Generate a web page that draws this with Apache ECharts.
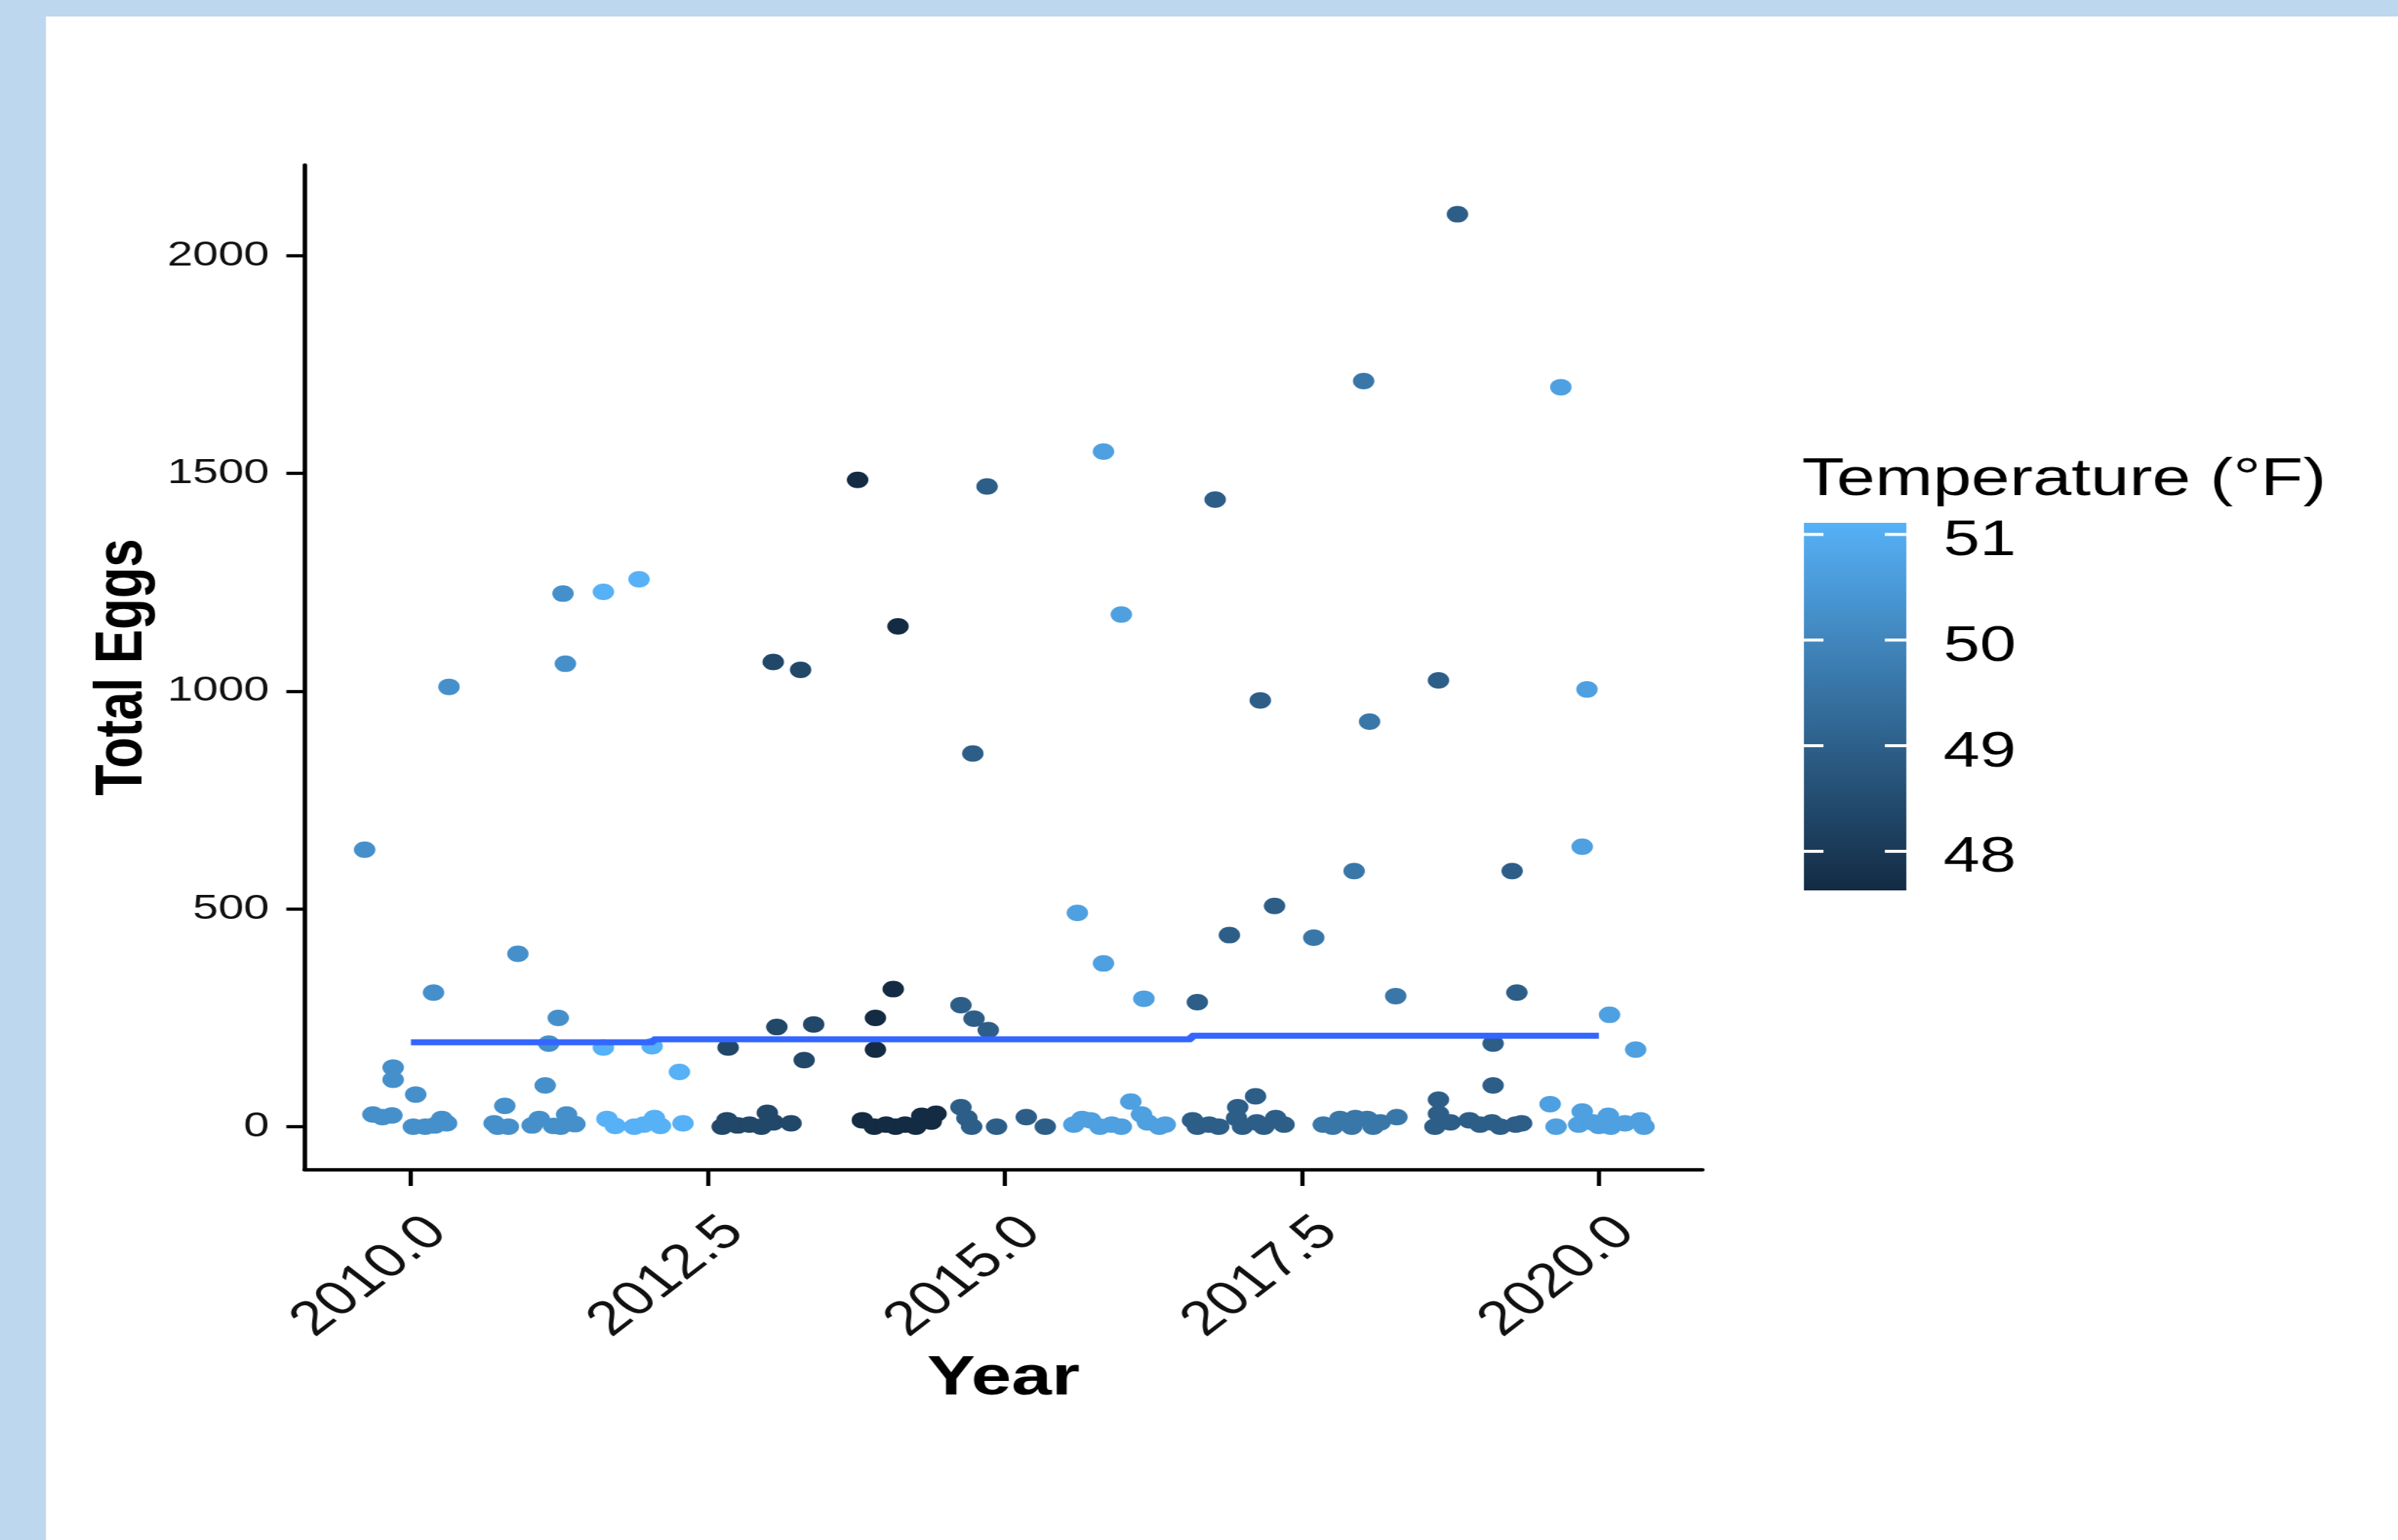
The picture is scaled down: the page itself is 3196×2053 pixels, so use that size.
<!DOCTYPE html>
<html>
<head>
<meta charset="utf-8">
<title>Total Eggs by Year</title>
<script src="https://cdn.jsdelivr.net/npm/echarts@6.0.0/dist/echarts.min.js"></script>
<style>
html, body { margin: 0; padding: 0; background: #fff; overflow: hidden; }
/* the source picture is stretched sideways, so the chart is drawn narrow and scaled */
#main { width: 2458px; height: 2053px; transform: scaleX(1.30024); transform-origin: 0 0; }
</style>
</head>
<body>
<div id="main"></div>
<script>
// [year (jittered), total eggs] for each season
const eggs2010 = [[2009.61, 636], [2009.85, 136], [2009.85, 108], [2010.04, 74], [2010.19, 308], [2010.32, 1010],
  [2009.68, 28], [2009.76, 22], [2009.84, 26], [2010.02, 0], [2010.12, 0], [2010.20, 3], [2010.26, 18], [2010.30, 8]];
const eggs2011 = [[2010.90, 397], [2011.24, 250], [2011.16, 191], [2011.13, 95], [2010.79, 48], [2011.28, 1224], [2011.30, 1063],
  [2010.70, 8], [2010.73, 0], [2010.82, 0], [2011.02, 3], [2011.08, 18], [2011.20, 2], [2011.26, 0], [2011.31, 28], [2011.38, 6]];
const eggs2012 = [[2011.62, 1228], [2011.92, 1257], [2011.62, 182], [2012.03, 185], [2012.26, 126],
  [2011.65, 18], [2011.72, 2], [2011.88, 0], [2011.96, 5], [2012.05, 20], [2012.10, 2], [2012.29, 8]];
const eggs2013 = [[2013.05, 1067], [2013.28, 1049], [2012.67, 182], [2013.08, 229], [2013.39, 235], [2013.31, 153],
  [2012.62, 0], [2012.66, 15], [2012.75, 3], [2012.85, 5], [2012.95, 0], [2013.00, 32], [2013.05, 10], [2013.20, 8]];
const eggs2014 = [[2013.76, 1485], [2014.10, 1149], [2014.06, 316], [2013.91, 250], [2013.91, 177],
  [2013.80, 15], [2013.90, 0], [2014.00, 5], [2014.08, 0], [2014.16, 5], [2014.25, 0], [2014.30, 25], [2014.38, 12], [2014.42, 30]];
const eggs2015 = [[2014.85, 1470], [2014.73, 857], [2014.63, 279], [2014.74, 248], [2014.86, 222],
  [2014.63, 45], [2014.68, 20], [2014.72, 0], [2014.93, 0], [2015.18, 22], [2015.34, 0]];
const eggs2016 = [[2015.83, 1550], [2015.98, 1176], [2015.61, 491], [2015.83, 375], [2016.17, 294], [2016.06, 58],
  [2015.58, 5], [2015.65, 18], [2015.72, 15], [2015.80, 0], [2015.90, 5], [2015.98, 0], [2016.15, 28], [2016.20, 10], [2016.30, 0], [2016.35, 5]];
const eggs2017 = [[2016.77, 1440], [2017.15, 979], [2016.89, 440], [2017.27, 507], [2016.62, 286], [2017.11, 70], [2016.96, 45],
  [2016.58, 15], [2016.62, 0], [2016.72, 5], [2016.80, 0], [2016.95, 20], [2017.00, 0], [2017.12, 10], [2017.18, 0], [2017.28, 20], [2017.35, 5]];
const eggs2018 = [[2018.02, 1712], [2018.07, 930], [2017.94, 587], [2017.60, 434], [2018.29, 300],
  [2017.68, 5], [2017.76, 0], [2017.82, 18], [2017.92, 0], [2017.95, 20], [2018.05, 18], [2018.10, 0], [2018.16, 10], [2018.30, 22]];
const eggs2019 = [[2018.81, 2095], [2018.65, 1025], [2019.27, 587], [2019.31, 308], [2019.11, 191], [2019.11, 95],
  [2018.65, 62], [2018.65, 30], [2018.62, 0], [2018.75, 10], [2018.91, 15], [2019.00, 5], [2019.10, 10], [2019.17, 0], [2019.30, 5], [2019.35, 8]];
const eggs2020 = [[2019.68, 1698], [2019.90, 1004], [2019.86, 643], [2020.09, 257], [2020.31, 177], [2019.59, 52],
  [2019.64, 0], [2019.86, 35], [2019.83, 5], [2020.08, 25], [2020.10, 0], [2020.35, 15], [2020.38, 0], [2020.22, 8], [2019.95, 10], [2020.00, 2]];

const seasons = [eggs2010, eggs2011, eggs2012, eggs2013, eggs2014, eggs2015, eggs2016, eggs2017, eggs2018, eggs2019, eggs2020];
const seasonTemps = [50.25, 50.25, 51.11, 48.37, 47.63, 48.96, 50.67, 48.96, 49.6, 48.96, 50.67];

// fitted trend
const trendYears = [2010, 2012.04, 2012.04, 2016.57, 2016.57, 2020];
const trendEggs = [194, 194, 201, 201, 209, 209];

const yearTicks = [2010, 2012.5, 2015, 2017.5, 2020];
const eggTicks = [0, 500, 1000, 1500, 2000];
const tempTicks = [48, 49, 50, 51];

var font = '"Liberation Sans", Arial, sans-serif';
var chart = echarts.init(document.getElementById('main'));

var points = [];
seasons.forEach(function (s, i) {
  s.forEach(function (p) { points.push([p[0], p[1], seasonTemps[i]]); });
});

// colour bar
var tempMin = 47.63, tempMax = 51.11;
var barTop = 697, barBottom = 1187, barLeft = 1849, barW = 105;
function tempY(t) {
  return barTop + (tempMax - t) / (tempMax - tempMin) * (barBottom - barTop);
}

var graphics = [
  { type: 'rect', shape: { x: 0, y: 0, width: 2458, height: 22 }, style: { fill: '#BDD7EE' }, z: -1 },
  { type: 'rect', shape: { x: 0, y: 0, width: 47, height: 2053 }, style: { fill: '#BDD7EE' }, z: -1 },
  {
    type: 'text', x: 1847, y: 640,
    style: { text: 'Temperature (°F)', font: 'normal 71px ' + font, fill: '#000', textVerticalAlign: 'middle' }
  },
  {
    type: 'rect', shape: { x: barLeft, y: barTop, width: barW, height: barBottom - barTop },
    style: {
      fill: new echarts.graphic.LinearGradient(0, 0, 0, 1, [
        { offset: 0, color: '#56B1F7' }, { offset: 1, color: '#132B43' }
      ])
    }
  }
];
tempTicks.forEach(function (t) {
  var y = tempY(t);
  graphics.push({ type: 'line', shape: { x1: barLeft, y1: y, x2: barLeft + 20, y2: y }, style: { stroke: '#fff', lineWidth: 4 } });
  graphics.push({ type: 'line', shape: { x1: barLeft + barW - 22, y1: y, x2: barLeft + barW, y2: y }, style: { stroke: '#fff', lineWidth: 4 } });
  graphics.push({
    type: 'text', x: 1992, y: y + 9,
    style: { text: String(t), font: 'normal 67px ' + font, fill: '#000', textVerticalAlign: 'middle' }
  });
});

chart.setOption({
  animation: false,
  backgroundColor: '#fff',
  grid: { left: 312, right: 713, top: 220, bottom: 494, outerBoundsMode: 'none' },
  xAxis: {
    type: 'value',
    min: 2009.103,
    max: 2020.872,
    splitLine: { show: false },
    axisLine: { onZero: false, lineStyle: { color: '#000', width: 4.5 } },
    axisTick: { customValues: yearTicks, length: 22, lineStyle: { color: '#000', width: 4.3 } },
    axisLabel: {
      customValues: yearTicks,
      formatter: function (v) { return v.toFixed(1); },
      rotate: 45,
      fontSize: 64,
      fontFamily: font,
      color: '#111',
      margin: 47,
      verticalAlign: 'top',
      lineHeight: 64,
      padding: [6, 0, 0, 0]
    },
    name: 'Year',
    nameLocation: 'middle',
    nameGap: 243,
    nameTextStyle: { fontSize: 74, fontWeight: 'bold', fontFamily: font, color: '#000' }
  },
  yAxis: {
    type: 'value',
    min: -98,
    max: 2208,
    splitLine: { show: false },
    axisLine: { onZero: false, lineStyle: { color: '#000', width: 4.6 } },
    axisTick: { customValues: eggTicks, length: 18.5, lineStyle: { color: '#000', width: 4.3 } },
    axisLabel: {
      customValues: eggTicks,
      formatter: function (v) { return String(v); },
      fontSize: 47,
      fontFamily: font,
      color: '#111',
      margin: 36
    },
    name: 'Total Eggs',
    nameLocation: 'middle',
    nameRotate: 90,
    nameGap: 141,
    nameTextStyle: { fontSize: 68, fontWeight: 'bold', fontFamily: font, color: '#000' }
  },
  visualMap: {
    type: 'continuous',
    show: false,
    seriesIndex: 0,
    dimension: 2,
    min: tempMin,
    max: tempMax,
    inRange: { color: ['#132B43', '#56B1F7'] }
  },
  series: [
    {
      type: 'scatter',
      data: points,
      symbolSize: 22,
      itemStyle: { opacity: 1 },
      z: 2
    },
    {
      type: 'line',
      data: trendYears.map(function (x, i) { return [x, trendEggs[i]]; }),
      showSymbol: false,
      lineStyle: { color: '#3366FF', width: 8 },
      z: 3
    }
  ],
  graphic: graphics
});
</script>
</body>
</html>
